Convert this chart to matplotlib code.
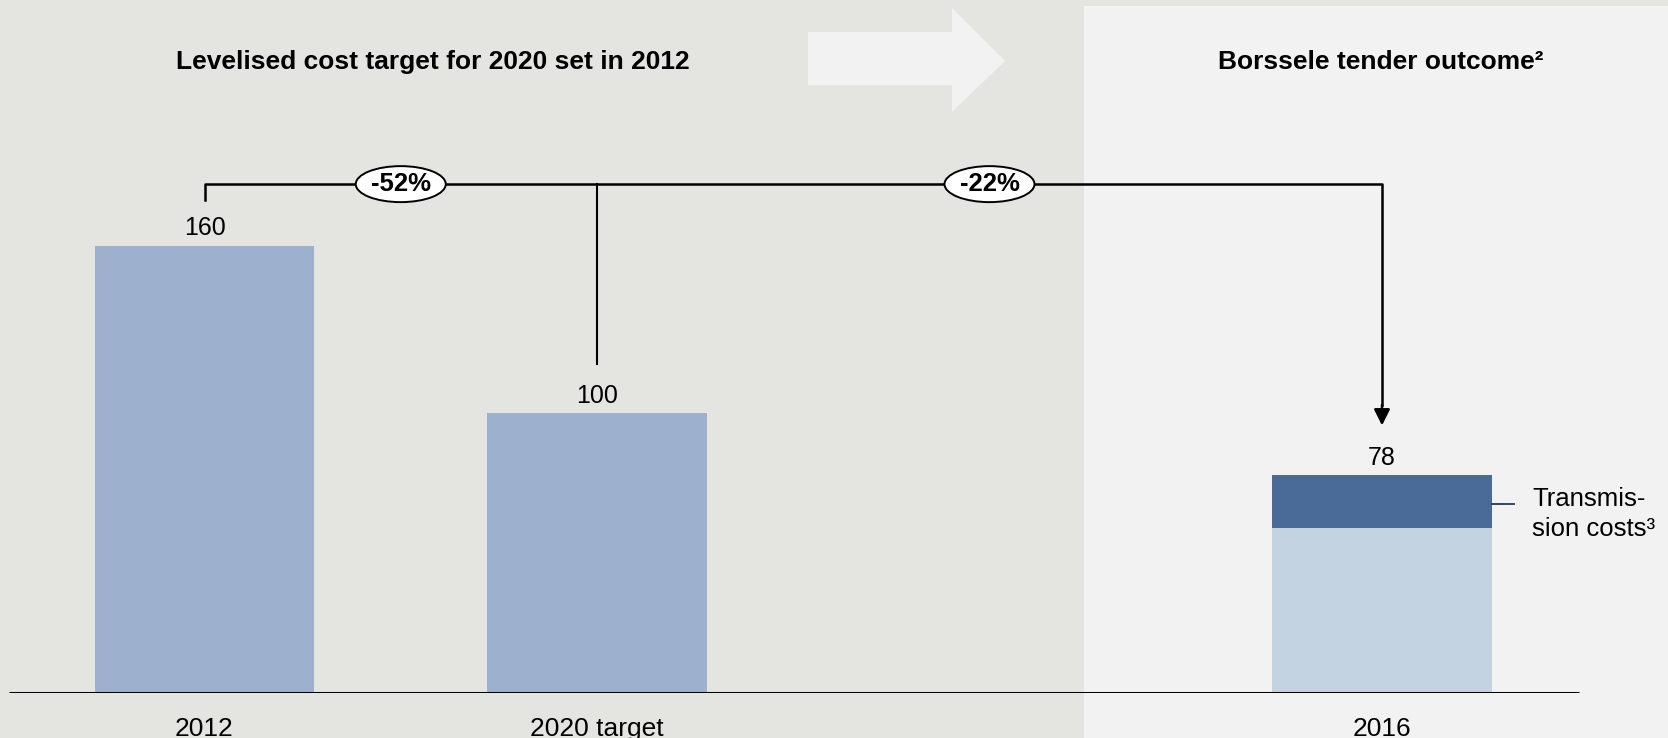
import matplotlib
matplotlib.use("Agg")
import matplotlib.pyplot as plt
from matplotlib.patches import Rectangle, Ellipse, Polygon

plt.rcParams['font.family'] = ['Liberation Sans', 'DejaVu Sans']

# ---- data ----
categories = ["2012", "2020 target", "2016"]
positions = [0, 1, 3]
totals = [160, 100, 78]
base_2016 = 59
transmission_2016 = 19
changes = ["-52%", "-22%"]
left_title = "Levelised cost target for 2020 set in 2012"
right_title = "Borssele tender outcome\u00b2"
trans_label = "Transmis-\nsion costs\u00b3"

W, H = 1668, 738
fig = plt.figure(figsize=(W / 100, H / 100), dpi=100)
fig.patch.set_facecolor("#E4E4E0")

# right panel background (figure pixel coords -> fraction)
fig.patches.append(Rectangle((1084 / W, 0), 1 - 1084 / W, (H - 6) / H,
                             transform=fig.transFigure, facecolor="#F2F2F2",
                             edgecolor="none", zorder=0))
# big block arrow
arrow_pts = [(808, 32), (952, 32), (952, 8), (1005, 61), (952, 112), (952, 85), (808, 85)]
fig.patches.append(Polygon([(x / W, 1 - y / H) for x, y in arrow_pts], closed=True,
                           transform=fig.transFigure, facecolor="#F2F2F2",
                           edgecolor="none", zorder=0))

base_px = 693
px_per_unit = 2.796
ax = fig.add_axes([0, (H - base_px) / H, 1, base_px / H])
ax.set_zorder(2)
ax.set_facecolor("none")
x_per_px = 1 / 392.5
ax.set_xlim(-204.5 * x_per_px, (W - 204.5) * x_per_px)
ax.set_ylim(0, base_px / px_per_unit)
ax.axis("off")

bw = 0.558
c_main = "#9DB1CF"
ax.bar(positions[:2], totals[:2], width=bw, color=c_main, zorder=2)
ax.bar(positions[2], base_2016, width=bw, color="#C3D3E2", zorder=2)
ax.bar(positions[2], transmission_2016, bottom=base_2016, width=bw, color="#4A6A98", zorder=2)

for p, v in zip(positions, totals):
    ax.text(p, v + 6.2, f"{v}", ha="center", va="center", fontsize=18, zorder=5)
for p, c in zip(positions, categories):
    ax.text(p, -13, c, ha="center", va="center", fontsize=19, clip_on=False)

# baseline
ax.plot([-196 * x_per_px, (1579 - 204.5) * x_per_px], [0, 0], color="black", lw=2.2, zorder=3,
        solid_capstyle="butt")

# bracket
by = totals[0] + 22
ax.plot([positions[0], positions[0], positions[2], positions[2]],
        [totals[0] + 16.5, by, by, totals[2] + 25], color="black", lw=1.8, zorder=3)
ax.plot([positions[1], positions[1]], [by, totals[1] + 17.5], color="black", lw=1.5, zorder=3)
ax.annotate("", xy=(positions[2], totals[2] + 17.7), xytext=(positions[2], totals[2] + 25),
            arrowprops=dict(arrowstyle="-|>", color="black", lw=1.8,
                            mutation_scale=24, shrinkA=0, shrinkB=0), zorder=4)

for xc, lab in zip([0.5, 2.0], changes):
    ax.add_patch(Ellipse((xc, by), 90 * x_per_px, 36 / px_per_unit, facecolor="white",
                         edgecolor="black", lw=1.4, zorder=4))
    ax.text(xc, by, lab, ha="center", va="center", fontsize=18.5, fontweight="bold", zorder=5)

# transmission label
ty = base_2016 + transmission_2016 / 2
ax.plot([positions[2] + bw / 2, (1514 - 204.5) * x_per_px], [ty - 1, ty - 1], color="#1F3A60", lw=1.3)
ax.text((1532 - 204.5) * x_per_px, 64, trans_label, ha="left", va="center",
        fontsize=18.5, linespacing=1.28)

# titles
fig.text(433 / W, 1 - 62 / H, left_title, ha="center", va="center", fontsize=19, fontweight="bold")
fig.text(1381 / W, 1 - 62 / H, right_title, ha="center", va="center", fontsize=19, fontweight="bold")

fig.savefig("out.png", dpi=100, facecolor=fig.get_facecolor())
